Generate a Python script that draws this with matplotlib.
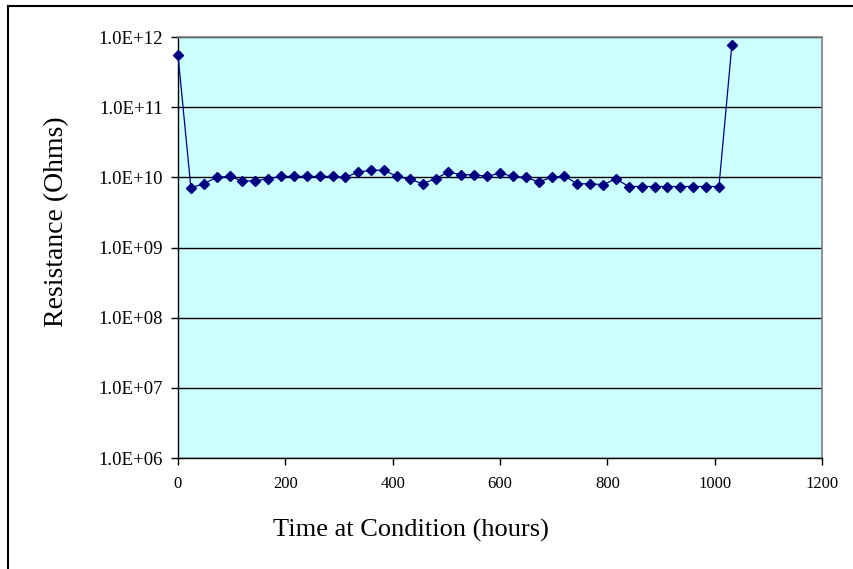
import numpy as np
import matplotlib.pyplot as plt
from matplotlib.ticker import FuncFormatter, FixedLocator
from matplotlib.lines import Line2D

# Tempo de ensaio (horas) e resistência medida (Ohms)
horas = [0, 24, 48, 72, 96, 120, 144, 168, 192, 216, 240, 264, 288, 312,
         336, 360, 384, 408, 432, 456, 480, 504, 528, 552, 576, 600,
         624, 648, 672, 696, 720, 744, 768, 792, 816, 840, 864, 888,
         912, 936, 960, 984, 1008, 1032]
resistencia = [5.5e11, 7.1e9, 8.1e9, 1.0e10, 1.03e10, 8.9e9, 8.9e9, 9.6e9,
               1.03e10, 1.03e10, 1.03e10, 1.03e10, 1.03e10, 1.0e10,
               1.19e10, 1.26e10, 1.26e10, 1.03e10, 9.4e9, 8.1e9, 9.6e9,
               1.19e10, 1.09e10, 1.09e10, 1.03e10, 1.15e10,
               1.03e10, 1.0e10, 8.6e9, 1.0e10, 1.04e10, 8.1e9, 8.1e9,
               7.85e9, 9.5e9, 7.4e9, 7.4e9, 7.4e9, 7.4e9, 7.4e9, 7.4e9,
               7.4e9, 7.4e9, 7.6e11]

ticks_x = [0, 200, 400, 600, 800, 1000, 1200]
ticks_y = [1e6, 1e7, 1e8, 1e9, 1e10, 1e11, 1e12]

plt.rcParams['font.family'] = ['Liberation Serif', 'DejaVu Serif']

fig = plt.figure(figsize=(8.54, 5.69), dpi=100)
ax = fig.add_axes([178 / 854, 1 - 458 / 569, 644 / 854, 421 / 569])
ax.set_facecolor('#CCFFFF')

ax.set_yscale('log')
ax.set_xlim(0, 1200)
ax.set_ylim(1e6, 1e12)

ax.yaxis.set_major_locator(FixedLocator(ticks_y))
ax.yaxis.set_minor_locator(FixedLocator([]))
ax.yaxis.set_major_formatter(FuncFormatter(lambda v, p: f"{v:.1E}"))
ax.set_xticks(ticks_x)

ax.grid(True, axis='y', color='black', linewidth=1.0)
ax.set_axisbelow(True)

ax.plot(horas, resistencia, color='#000080', linewidth=0.9,
        marker='D', markersize=4.8, clip_on=False, zorder=3)

for lado in ['top', 'right']:
    ax.spines[lado].set_color('#808080')
    ax.spines[lado].set_linewidth(1.2)
for lado in ['left', 'bottom']:
    ax.spines[lado].set_color('black')
    ax.spines[lado].set_linewidth(1.0)

ax.tick_params(axis='both', direction='out', length=5, width=1,
               color='black')
ax.tick_params(axis='x', labelsize=12, pad=8)
ax.tick_params(axis='y', labelsize=13.5, pad=6)

# Rótulos dos eixos
fig.text(411 / 854, 1 - 530 / 569, 'Time at Condition (hours)',
         ha='center', va='center', fontsize=19)
fig.text(57 / 854, 1 - 222 / 569, 'Resistance (Ohms)',
         ha='center', va='center', rotation=90, fontsize=20)

# Moldura externa (só topo e esquerda aparecem)
fig.add_artist(Line2D([8 / 854, 1.0], [1 - 6 / 569, 1 - 6 / 569],
                      color='black', linewidth=1.5))
fig.add_artist(Line2D([8 / 854, 8 / 854], [0.0, 1 - 6 / 569],
                      color='black', linewidth=1.5))

fig.savefig('out.png', dpi=100)
